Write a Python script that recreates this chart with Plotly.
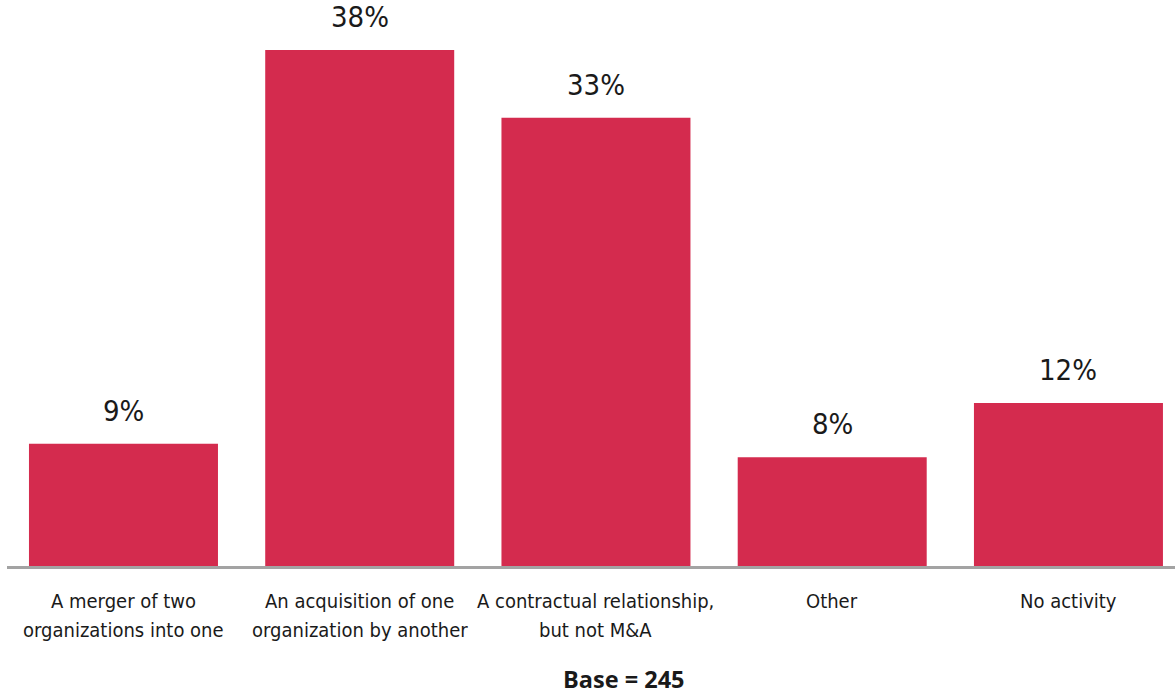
import plotly.graph_objects as go

# Survey responses: type of partnership activity (share of respondents)
categories = [
    "A merger of two<br>organizations into one",
    "An acquisition of one<br>organization by another",
    "A contractual relationship,<br>but not M&A",
    "Other",
    "No activity",
]
shares = [9, 38, 33, 8, 12]
share_labels = ["9%", "38%", "33%", "8%", "12%"]
base_note = "Base = 245"

BAR_COLOR = "#D42B4E"
TEXT_COLOR = "#1a1a1a"
NARROW = "Liberation Sans Narrow, DejaVu Sans Condensed, Arial Narrow, sans-serif"

PLOT_BOTTOM = 566  # pixel row of the category axis
LINE_STEP = 29     # spacing between the two lines of a category label

positions = list(range(len(categories)))

fig = go.Figure(
    go.Bar(
        x=positions,
        y=shares,
        width=0.8,
        marker=dict(color=BAR_COLOR, line=dict(width=0)),
        hoverinfo="skip",
    )
)

annotations = []

# value labels above each bar
for pos, val, lab in zip(positions, shares, share_labels):
    annotations.append(
        dict(
            x=pos, y=val, xref="x", yref="y",
            text=lab, showarrow=False,
            xanchor="center", yanchor="bottom", yshift=14,
            font=dict(family=NARROW, size=29, color=TEXT_COLOR),
        )
    )

# category labels under the axis, one annotation per line
for pos, cat in zip(positions, categories):
    for k, line in enumerate(cat.split("<br>")):
        centre_px = 601 + k * LINE_STEP
        annotations.append(
            dict(
                x=pos, y=0, xref="x", yref="paper",
                text=line, showarrow=False,
                xanchor="center", yanchor="middle",
                yshift=-(centre_px - PLOT_BOTTOM),
                font=dict(family=NARROW, size=20, color=TEXT_COLOR),
            )
        )

# sample size note
annotations.append(
    dict(
        text=f"<b>{base_note}</b>",
        xref="paper", yref="paper",
        x=(624 - 7) / 1168, y=0,
        xanchor="center", yanchor="middle",
        yshift=-(679 - PLOT_BOTTOM),
        showarrow=False,
        font=dict(family="Open Sans, Noto Sans, sans-serif", size=23.5, color=TEXT_COLOR),
    )
)

fig.update_layout(
    width=1175,
    height=696,
    margin=dict(l=7, r=0, t=0, b=696 - PLOT_BOTTOM, autoexpand=False),
    paper_bgcolor="white",
    plot_bgcolor="white",
    showlegend=False,
    xaxis=dict(
        range=[-0.493, 4.451],
        showticklabels=False,
        showline=True,
        linecolor="#A3A3A3",
        linewidth=3,
        showgrid=False,
        zeroline=False,
        ticks="",
        automargin=False,
        fixedrange=True,
    ),
    yaxis=dict(
        range=[0, PLOT_BOTTOM / 13.58],
        visible=False,
        automargin=False,
        fixedrange=True,
    ),
    annotations=annotations,
)

fig.write_html("out.html")
